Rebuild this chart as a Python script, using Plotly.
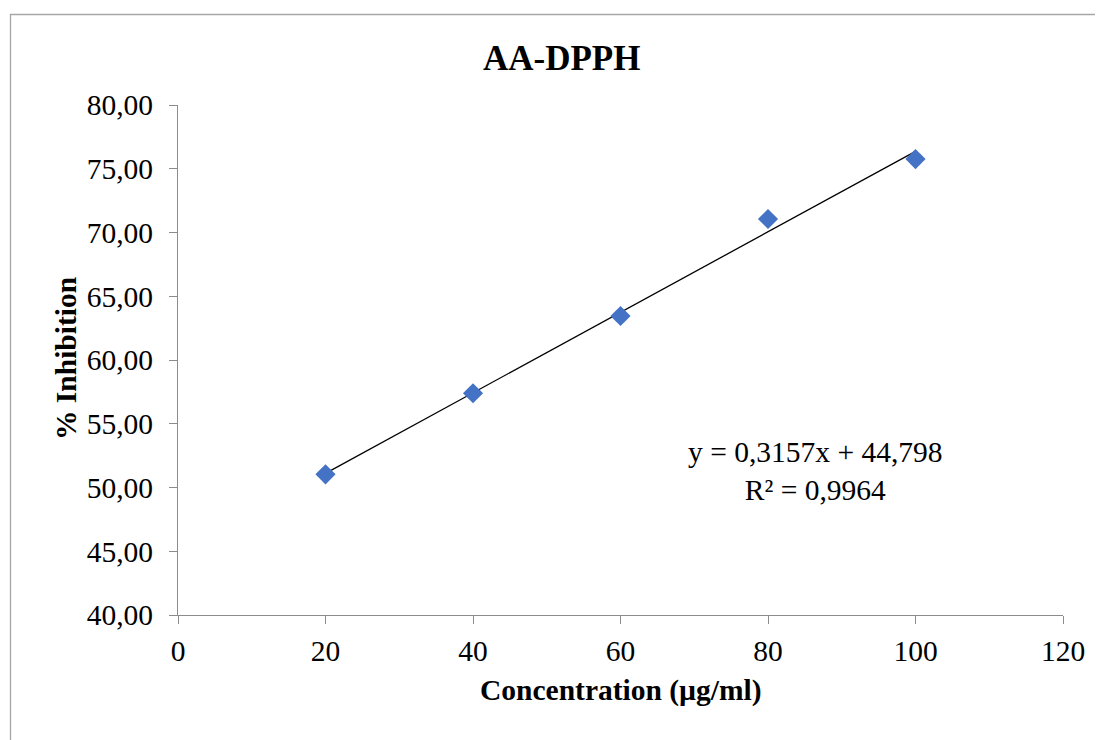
import plotly.graph_objects as go

# Data
concentration = [20, 40, 60, 80, 100]
inhibition = [51.03, 57.39, 63.45, 71.06, 75.76]
slope = 0.3157
intercept = 44.798
r_squared = "0,9964"
trend_x = [20, 100]
trend_y = [slope * x + intercept for x in trend_x]

FONT = "Liberation Serif, Times New Roman, serif"
OFF = 8  # page body offset
W, H = 1103 - OFF, 740 - OFF
L, R, T, B = 178 - OFF, 40, 105 - OFF, 125
pw, ph = W - L - R, H - T - B

def px(x):
    return (x - OFF - L) / pw

def py(y):
    return (H - B - (y - OFF)) / ph

fig = go.Figure()
fig.add_trace(go.Scatter(
    x=trend_x, y=trend_y, mode="lines",
    line=dict(color="black", width=1.3), showlegend=False, hoverinfo="skip"))
fig.add_trace(go.Scatter(
    x=concentration, y=inhibition, mode="markers",
    marker=dict(symbol="diamond", size=15.5, color="#4472C4", line=dict(width=0)),
    showlegend=False))

axis_common = dict(
    showgrid=False, zeroline=False, showline=True, linecolor="#8C8C8C", linewidth=1,
    ticks="outside", ticklen=8, tickcolor="#8C8C8C", tickwidth=1,
    tickfont=dict(family=FONT, size=29.5, color="black"))

fig.update_xaxes(range=[0, 120], tickmode="array", tickvals=[0, 20, 40, 60, 80, 100, 120],
                 ticklabelstandoff=2, **axis_common)
fig.update_yaxes(range=[40, 80], tickmode="array",
                 tickvals=[40, 45, 50, 55, 60, 65, 70, 75, 80], tickformat=".2f",
                 ticklabelstandoff=10, **axis_common)

annotations = [
    dict(text="<b>AA-DPPH</b>", x=px(561), y=py(58), font=dict(size=35)),
    dict(text="<b>Concentration (µg/ml)</b>", x=px(621), y=py(690), font=dict(size=29.5)),
    dict(text="<b>% Inhibition</b>", x=px(66), y=py(359), textangle=-90, font=dict(size=29.5)),
    dict(text=f"y = {str(slope).replace('.', ',')}x + {str(intercept).replace('.', ',')}<br>R² = {r_squared}",
         x=px(815), y=py(471), font=dict(size=29.5)),
]
for a in annotations:
    a.update(xref="paper", yref="paper", showarrow=False, xanchor="center", yanchor="middle")
    a["font"].update(family=FONT, color="black")

fig.update_layout(
    width=W, height=H, margin=dict(l=L, r=R, t=T, b=B),
    paper_bgcolor="white", plot_bgcolor="white", separators=",.",
    annotations=annotations,
    shapes=[dict(type="rect", xref="paper", yref="paper",
                 x0=px(10.5), x1=px(1130), y0=py(14.5), y1=py(780),
                 line=dict(color="#A6A6A6", width=1.3), fillcolor="rgba(0,0,0,0)")],
)

fig.write_html("out.html")
